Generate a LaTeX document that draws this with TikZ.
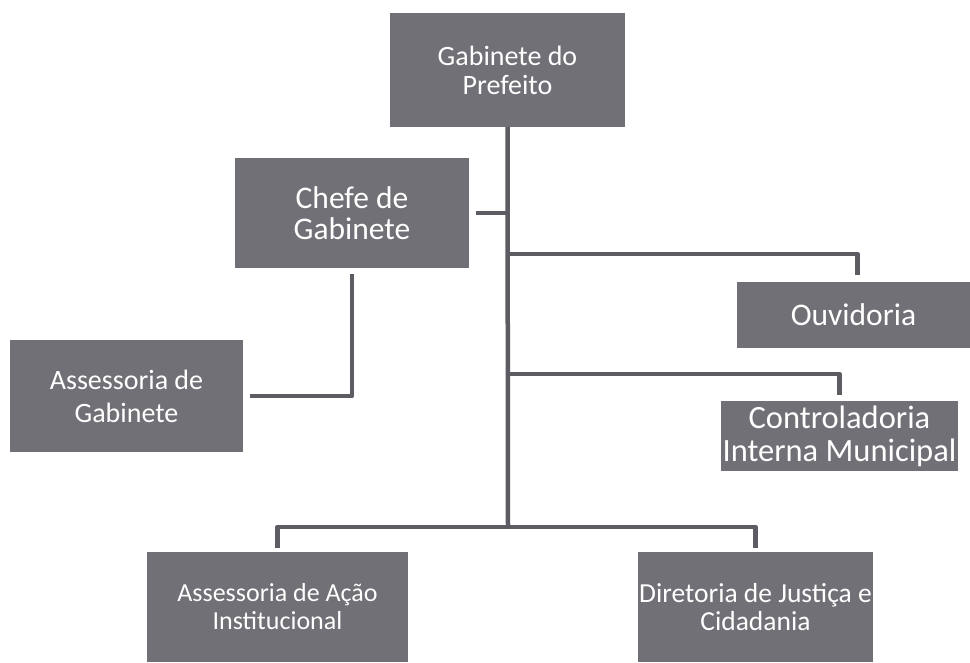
\documentclass[tikz,border=0pt]{standalone}
\usepackage{fontspec}
\setmainfont{Carlito}
\usepackage{tikz}

\definecolor{boxgray}{RGB}{112,112,118}
\definecolor{linegray}{RGB}{92,92,98}

\begin{document}
\begin{tikzpicture}[x=1pt,y=-1pt,
  unit/.style={rectangle, fill=boxgray, text=white, align=center, inner sep=0pt},
  link/.style={draw=linegray, line width=4.5pt, line join=round}]
\useasboundingbox (0,0) rectangle (970,662);
\node [unit, minimum width=235, minimum height=114, font=\fontsize{28}{29}\selectfont] (gab) at (507.5,70) {Gabinete do\\Prefeito};
\node [unit, minimum width=234, minimum height=110, font=\fontsize{31.5}{31}\selectfont] (chefe) at (352,213) {Chefe de\\Gabinete};
\node [unit, minimum width=233, minimum height=112, font=\fontsize{28}{33}\selectfont] (asgab) at (126.5,396) {Assessoria de\\Gabinete};
\node [unit, minimum width=233, minimum height=66, font=\fontsize{31.5}{31}\selectfont] (ouv) at (853.5,315) {Ouvidoria};
\node [unit, minimum width=237, minimum height=70, font=\fontsize{32.5}{33}\selectfont] (contr) at (839.5,436) {Controladoria\\Interna Municipal};
\node [unit, minimum width=261, minimum height=110, font=\fontsize{26}{28}\selectfont] (acao) at (277.5,607) {Assessoria de Ação\\Institucional};
\node [unit, minimum width=235, minimum height=110, font=\fontsize{27.5}{28}\selectfont] (dir) at (755.5,607) {Diretoria de Justiça e\\Cidadania};

\coordinate (bus) at (508,527);
\coordinate (b1) at (508,254);
\coordinate (b2) at (508,374);

\draw [link] (gab.south) -- (bus);
\draw [link] (chefe.east -| bus) -- ([xshift=7]chefe.east);
\draw [link] (b1) -| ([xshift=4,yshift=7]ouv.north);
\draw [link] (b2) -| ([yshift=6]contr.north);
\draw [link] ([yshift=-6]chefe.south) |- ([xshift=7]asgab.east);
\draw [link] ([yshift=4]acao.north) -- (acao.north |- bus) -- (dir.north |- bus) -- ([yshift=4]dir.north);
\end{tikzpicture}
\end{document}
